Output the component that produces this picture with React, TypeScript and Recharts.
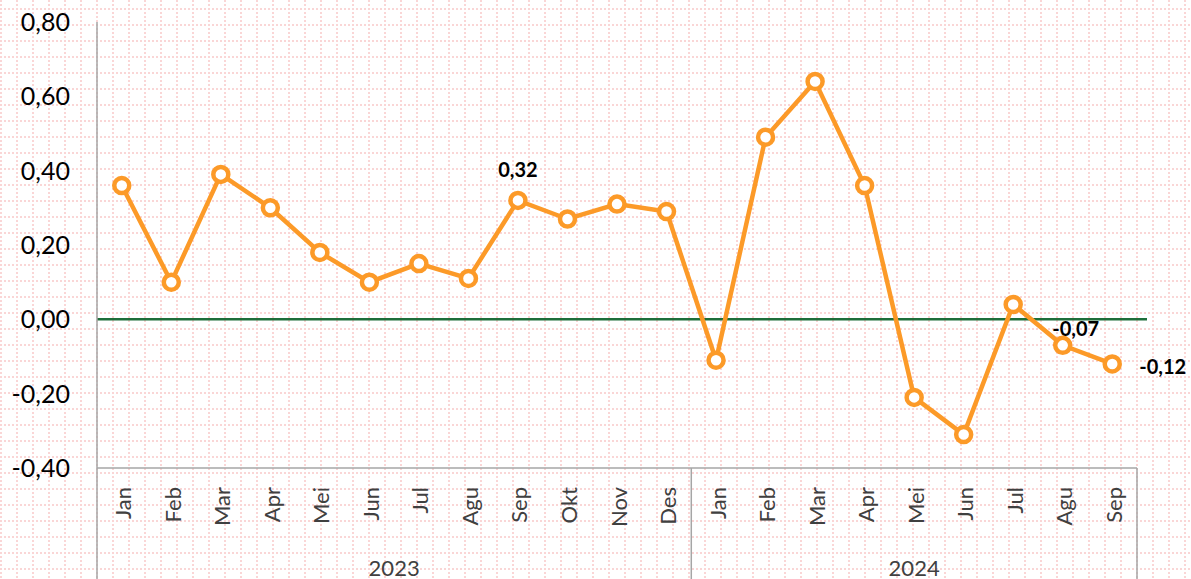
import React from "react";
import { LineChart, Line, XAxis, YAxis, ReferenceLine, LabelList } from "recharts";

const years = ["2023", "2024"];
const months2023 = ["Jan", "Feb", "Mar", "Apr", "Mei", "Jun", "Jul", "Agu", "Sep", "Okt", "Nov", "Des"];
const months2024 = ["Jan", "Feb", "Mar", "Apr", "Mei", "Jun", "Jul", "Agu", "Sep"];
const values2023 = [0.36, 0.1, 0.39, 0.3, 0.18, 0.1, 0.15, 0.11, 0.32, 0.27, 0.31, 0.29];
const values2024 = [-0.11, 0.49, 0.64, 0.36, -0.21, -0.31, 0.04, -0.07, -0.12];
const yTicks = [-0.4, -0.2, 0, 0.2, 0.4, 0.6, 0.8];
const labelledPoints = ["2023-Sep", "2024-Agu", "2024-Sep"];

const groups = [
  { year: years[0], months: months2023, values: values2023 },
  { year: years[1], months: months2024, values: values2024 },
];

const data = groups.flatMap((g) =>
  g.months.map((m, i) => ({ key: `${g.year}-${m}`, month: m, year: g.year, value: g.values[i] }))
);

const W = 1191;
const H = 579;
const LEFT = 97;
const RIGHT = 54;
const TOP = 22;
const AXIS_H = 111;
const BAND = (W - LEFT - RIGHT) / data.length;

const ORANGE = "#FC9A28";
const GREEN = "#1E6E3A";
const GRAY = "#A6A6A6";
const FONT = "Lato, 'Open Sans', sans-serif";

const fmt = (v: number) => v.toFixed(2).replace(".", ",");

const pattern =
  "data:image/svg+xml;utf8," +
  encodeURIComponent(
    "<svg xmlns='http://www.w3.org/2000/svg' width='16' height='16'><g fill='#FAD6D6'>" +
      "<rect x='0' y='0' width='2' height='2'/><rect x='4' y='0' width='2' height='2'/>" +
      "<rect x='8' y='0' width='2' height='2'/><rect x='12' y='0' width='2' height='2'/>" +
      "<rect x='0' y='4' width='2' height='2'/><rect x='0' y='8' width='2' height='2'/>" +
      "<rect x='0' y='12' width='2' height='2'/></g></svg>"
  );

const MonthTick = (props: any) => {
  const { x, y, index } = props;
  const row = data[index];
  if (!row) return null;
  const groupStart = data.findIndex((d) => d.year === row.year);
  const groupLen = data.filter((d) => d.year === row.year).length;
  const isFirst = index === groupStart;
  const isLast = index === groupStart + groupLen - 1;
  return (
    <g>
      <text
        transform={`translate(${x + 1},${y + 19}) rotate(-90)`}
        textAnchor="end"
        dominantBaseline="central"
        fontSize={22}
        fontFamily={FONT}
        fill="#404040"
      >
        {row.month}
      </text>
      {index === 0 && <line x1={x - BAND / 2} y1={y} x2={x - BAND / 2} y2={H} stroke={GRAY} strokeWidth={1.5} />}
      {isLast && <line x1={x + BAND / 2} y1={y} x2={x + BAND / 2} y2={H} stroke={GRAY} strokeWidth={1.5} />}
      {isFirst && (
        <text
          x={x - BAND / 2 + (groupLen * BAND) / 2}
          y={y + 99}
          textAnchor="middle"
          dominantBaseline="central"
          fontSize={22}
          fontFamily={FONT}
          fill="#404040"
        >
          {row.year}
        </text>
      )}
    </g>
  );
};

const PointLabel = (props: any) => {
  const { x, y, index, value } = props;
  const row = data[index];
  if (!row || !labelledPoints.includes(row.key)) return null;
  const last = index === data.length - 1;
  const prevLabelled = index === data.length - 2;
  let tx = x;
  let ty = y - 31;
  let anchor = "middle";
  if (last) {
    tx = x + 27;
    ty = y + 2;
    anchor = "start";
  } else if (prevLabelled) {
    tx = x + 13;
    ty = y - 17;
  }
  return (
    <text
      x={tx}
      y={ty}
      textAnchor={anchor}
      dominantBaseline="central"
      fontSize={20}
      fontWeight="bold"
      fontFamily={FONT}
      fill="#000"
    >
      {fmt(value)}
    </text>
  );
};

export default function App() {
  return (
    <div
      style={{
        position: "absolute",
        left: 0,
        top: 0,
        width: W,
        height: H,
        backgroundColor: "#fff",
        backgroundImage: `url("${pattern}")`,
        backgroundPosition: "0px 8px",
      }}
    >
      <LineChart width={W} height={H} data={data} margin={{ top: TOP, right: RIGHT, bottom: 0, left: 0 }}>
        <XAxis
          dataKey="key"
          height={AXIS_H}
          interval={0}
          padding={{ left: BAND / 2, right: BAND / 2 }}
          tickSize={0}
          tickMargin={0}
          axisLine={{ stroke: GRAY, strokeWidth: 1.5 }}
          tickLine={false}
          tick={<MonthTick />}
        />
        <YAxis
          width={LEFT}
          domain={[-0.4, 0.8]}
          ticks={yTicks}
          interval={0}
          tickFormatter={fmt}
          tickSize={0}
          tickMargin={27}
          axisLine={{ stroke: GRAY, strokeWidth: 1.5 }}
          tickLine={false}
          tick={{ fontSize: 25, fontFamily: FONT, fill: "#000" }}
        />
        <ReferenceLine
          y={0}
          stroke={GREEN}
          strokeWidth={2.5}
          shape={(p: any) => <line x1={p.x1} y1={p.y1} x2={p.x2 + 10} y2={p.y2} stroke={GREEN} strokeWidth={2.5} />}
        />
        <Line
          type="linear"
          dataKey="value"
          stroke={ORANGE}
          strokeWidth={4.5}
          dot={{ r: 7.5, fill: "#fff", stroke: ORANGE, strokeWidth: 4.5 }}
          activeDot={false}
          isAnimationActive={false}
        >
          <LabelList dataKey="value" content={<PointLabel />} />
        </Line>
      </LineChart>
    </div>
  );
}
